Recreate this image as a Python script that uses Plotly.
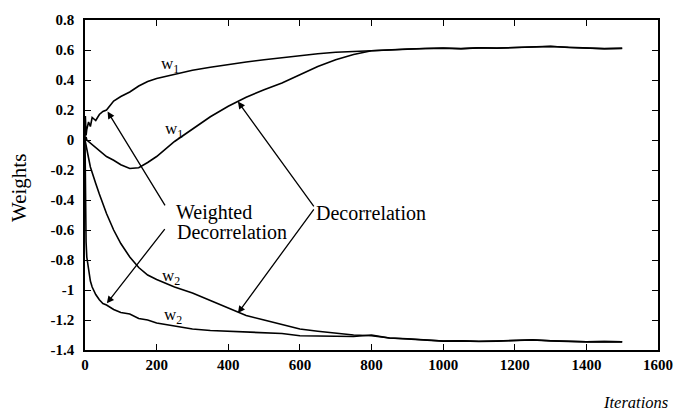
import plotly.graph_objects as go

# Iteration grid shared by the four weight trajectories
iterations = [0, 1, 3, 5, 10, 15, 20, 30, 40, 50, 60, 80, 100, 125, 150, 175, 200,
              250, 300, 350, 400, 450, 500, 550, 600, 650, 700, 750, 800, 850,
              900, 950, 1000, 1050, 1100, 1150, 1200, 1250, 1300, 1350, 1400,
              1450, 1500]

# Weighted decorrelation, w1
w1_weighted = [0.0, 0.16, 0.03, 0.07, 0.12, 0.09, 0.15, 0.13, 0.17, 0.19, 0.20,
               0.26, 0.29, 0.32, 0.36, 0.39, 0.41, 0.44, 0.465, 0.485, 0.505,
               0.52, 0.535, 0.55, 0.56, 0.575, 0.585, 0.59, 0.60, 0.603, 0.605,
               0.61, 0.612, 0.608, 0.615, 0.612, 0.618, 0.622, 0.625, 0.617,
               0.612, 0.608, 0.612]

# Plain decorrelation, w1
w1_decorr = [0.0, 0.01, 0.02, 0.0, -0.01, -0.02, -0.03, -0.05, -0.066, -0.09,
             -0.11, -0.135, -0.165, -0.19, -0.185, -0.15, -0.11, -0.01, 0.07,
             0.155, 0.225, 0.285, 0.335, 0.38, 0.435, 0.49, 0.535, 0.57, 0.595,
             0.603, 0.607, 0.61, 0.613, 0.609, 0.614, 0.613, 0.617, 0.621,
             0.623, 0.618, 0.611, 0.609, 0.611]

# Weighted decorrelation, w2
w2_weighted = [0.0, -0.35, -0.68, -0.78, -0.88, -0.94, -0.98, -1.03, -1.065,
               -1.09, -1.10, -1.13, -1.15, -1.16, -1.19, -1.20, -1.22, -1.24,
               -1.26, -1.27, -1.275, -1.28, -1.285, -1.29, -1.305, -1.305,
               -1.31, -1.31, -1.30, -1.32, -1.325, -1.335, -1.34, -1.338,
               -1.342, -1.34, -1.335, -1.332, -1.338, -1.342, -1.345, -1.343,
               -1.345]

# Plain decorrelation, w2
w2_decorr = [0.0, -0.01, -0.03, -0.07, -0.12, -0.18, -0.22, -0.29, -0.36, -0.43,
             -0.49, -0.60, -0.69, -0.78, -0.85, -0.90, -0.93, -0.98, -1.02,
             -1.07, -1.12, -1.17, -1.20, -1.23, -1.26, -1.275, -1.29, -1.30,
             -1.305, -1.32, -1.327, -1.336, -1.341, -1.339, -1.343, -1.341,
             -1.336, -1.333, -1.339, -1.343, -1.346, -1.344, -1.346]

x_ticks = [0, 200, 400, 600, 800, 1000, 1200, 1400, 1600]
x_tick_text = ["0", "200", "400", "600", "800", "1000", "1200", "1400", "1600"]
y_ticks = [0.8, 0.6, 0.4, 0.2, 0.0, -0.2, -0.4, -0.6, -0.8, -1.0, -1.2, -1.4]
y_tick_text = ["0.8", "0.6", "0.4", "0.2", "0", "-0.2", "-0.4", "-0.6", "-0.8",
               "-1", "-1.2", "-1.4"]

# Curve labels: (text, iteration, weight)
curve_labels = [
    ("w<sub>1</sub>", 237, 0.50),
    ("w<sub>1</sub>", 248, 0.065),
    ("w<sub>2</sub>", 240, -0.91),
    ("w<sub>2</sub>", 245, -1.175),
]

# Pointer arrows: (tail iteration, tail weight, tip iteration, tip weight)
weighted_arrows = [(226, -0.446, 63, 0.19), (226, -0.584, 61, -1.089)]
decorr_arrows = [(642, -0.452, 427, 0.256), (642, -0.452, 427, -1.154)]

# Free-standing text: (text, iteration, weight)
callout_texts = [
    ("Weighted", 248, -0.485),
    ("Decorrelation", 251, -0.616),
    ("Decorrelation", 640, -0.485),
]

SERIF = "Liberation Serif, Times New Roman, serif"

fig = go.Figure()
for ys in (w1_weighted, w1_decorr, w2_weighted, w2_decorr):
    fig.add_trace(go.Scatter(x=iterations, y=ys, mode="lines",
                             line=dict(color="black", width=1.6),
                             showlegend=False, hoverinfo="skip"))

annotations = []
for text, xv, yv in curve_labels:
    annotations.append(dict(x=xv, y=yv, xref="x", yref="y", text=text,
                            showarrow=False, font=dict(family=SERIF, size=17,
                                                       color="black")))

for ax_, ay_, x_, y_ in weighted_arrows + decorr_arrows:
    annotations.append(dict(x=x_, y=y_, ax=ax_, ay=ay_, xref="x", yref="y",
                            axref="x", ayref="y", text="", showarrow=True,
                            arrowhead=2, arrowsize=1.1, arrowwidth=1.3,
                            arrowcolor="black", standoff=0, startstandoff=0))

for text, xv, yv in callout_texts:
    annotations.append(dict(x=xv, y=yv, xref="x", yref="y", text=text,
                            showarrow=False, xanchor="left", yanchor="middle",
                            font=dict(family=SERIF, size=20, color="black")))

annotations.append(dict(x=0.96, y=-0.158, xref="paper", yref="paper",
                        text="<i>Iterations</i>", showarrow=False,
                        xanchor="center", yanchor="middle",
                        font=dict(family=SERIF, size=16.5, color="black")))
annotations.append(dict(x=-0.114, y=0.49, xref="paper", yref="paper",
                        text="Weights", showarrow=False, textangle=-90,
                        xanchor="center", yanchor="middle",
                        font=dict(family=SERIF, size=21, color="black")))

axis_common = dict(showgrid=False, zeroline=False, showline=True,
                   linecolor="black", linewidth=1.6, mirror="ticks",
                   ticks="inside", ticklen=6, tickwidth=1.3, tickcolor="black",
                   tickfont=dict(family=SERIF, size=15, color="black",
                                 weight="bold"))

fig.update_layout(
    width=685, height=419,
    margin=dict(l=85, r=19, t=15, b=69),
    paper_bgcolor="white", plot_bgcolor="white",
    xaxis=dict(range=[0, 1600], tickvals=x_ticks, ticktext=x_tick_text,
               **axis_common),
    yaxis=dict(range=[-1.4, 0.8], tickvals=y_ticks, ticktext=y_tick_text,
               ticklabelstandoff=6, **axis_common),
    annotations=annotations,
)

fig.write_html("out.html")
